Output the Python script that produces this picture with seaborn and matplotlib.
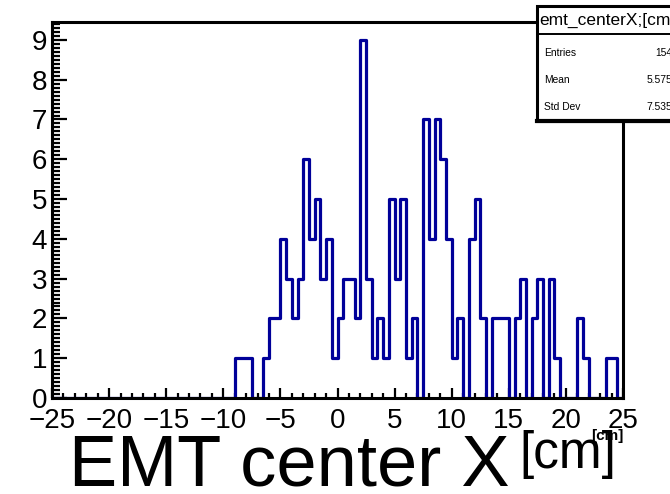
import numpy as np
import pandas as pd
import matplotlib
matplotlib.use("Agg")
import matplotlib.pyplot as plt
from matplotlib.ticker import MultipleLocator
from matplotlib.patches import Rectangle
from matplotlib.lines import Line2D
import seaborn as sns

# ---- data (bin lower edges from -25 to 24.5, width 0.5) ----
bin_edges = [float(v) for v in np.arange(-25.0, 25.0 + 0.25, 0.5)]
counts = [
    # -25 .. -20.5
    0, 0, 0, 0, 0, 0, 0, 0, 0, 0,
    # -20 .. -15.5
    0, 0, 0, 0, 0, 0, 0, 0, 0, 0,
    # -15 .. -10.5
    0, 0, 0, 0, 0, 0, 0, 0, 0, 0,
    # -10 .. -5.5
    0, 0, 1, 1, 1, 0, 0, 1, 2, 2,
    # -5 .. -0.5
    4, 3, 2, 3, 6, 4, 5, 3, 4, 1,
    # 0 .. 4.5
    2, 3, 3, 2, 9, 3, 1, 2, 1, 5,
    # 5 .. 9.5
    3, 5, 1, 2, 0, 7, 4, 7, 6, 4,
    # 10 .. 14.5
    1, 2, 0, 4, 5, 2, 0, 2, 2, 2,
    # 15 .. 19.5
    0, 2, 3, 0, 2, 3, 0, 3, 1, 0,
    # 20 .. 24.5
    0, 0, 2, 1, 0, 0, 0, 1, 1, 0,
]
bin_centers = [e + 0.25 for e in bin_edges[:-1]]
x_ticks = [-25, -20, -15, -10, -5, 0, 5, 10, 15, 20, 25]
y_ticks = [0, 1, 2, 3, 4, 5, 6, 7, 8, 9]
x_label = "EMT center X"
unit_label = "[cm]"
stats_title = "emt_centerX;[cm]"
stats_names = ["Entries", "Mean", "Std Dev"]
stats_values = ["154", "5.575", "7.535"]

df = pd.DataFrame({"x": bin_centers, "w": counts})

W, H = 670, 494
fig = plt.figure(figsize=(W / 100, H / 100), dpi=100)
plt.rcParams["font.family"] = ["Liberation Sans", "DejaVu Sans"]

def fx(px):
    return px / W

def fy(py):
    return 1 - py / H

ax = fig.add_axes([fx(52), fy(398), (623 - 52) / W, (398 - 22) / H])
sns.histplot(data=df, x="x", weights="w", bins=bin_edges, element="step",
             fill=False, color="#000099", linewidth=2.3, ax=ax)

ax.set_xlim(-25, 25)
ax.set_ylim(0, 9.45)
ax.set_xticks(x_ticks)
ax.set_yticks(y_ticks)
ax.set_xticklabels([("\u2212" + str(-v)) if v < 0 else str(v) for v in x_ticks])
ax.xaxis.set_minor_locator(MultipleLocator(1))
ax.yaxis.set_minor_locator(MultipleLocator(0.1))
ax.set_xlabel("")
ax.set_ylabel("")
ax.grid(False)
for s in ax.spines.values():
    s.set_linewidth(2.2)
    s.set_color("black")
ax.tick_params(axis="x", which="major", direction="in", length=7, width=1.6,
               labelsize=20, pad=7)
ax.tick_params(axis="x", which="minor", direction="in", length=3.5, width=1.6)
ax.tick_params(axis="y", which="major", direction="in", length=11, width=1.6,
               labelsize=20, pad=3.5)
ax.tick_params(axis="y", which="minor", direction="in", length=5.5, width=1.6)
ax.tick_params(top=False, right=False, which="both")

# axis titles
fig.text(fx(69), fy(485), x_label, fontsize=52, ha="left", va="baseline")
fig.text(fx(519), fy(468), unit_label, fontsize=37, ha="left", va="baseline")
fig.text(fx(623), fy(440), unit_label, fontsize=11, fontweight="bold",
         ha="right", va="baseline")

# stats box
box_l, box_t, box_b, sep = 537, 6, 121, 34
fig.add_artist(Rectangle((fx(box_l), fy(box_b)), fx(700 - box_l), (box_b - box_t) / H,
                         transform=fig.transFigure, facecolor="white",
                         edgecolor="black", linewidth=2.2, zorder=10))
fig.add_artist(Line2D([fx(box_l), fx(700)], [fy(sep), fy(sep)],
                      transform=fig.transFigure, color="black", linewidth=1.4, zorder=11))
fig.add_artist(Line2D([fx(box_l), fx(700)], [fy(box_b), fy(box_b)],
                      transform=fig.transFigure, color="black", linewidth=3.0, zorder=11))
fig.text(fx(539), fy(20), stats_title, fontsize=12.5, ha="left", va="center", zorder=12)
rows_y = [53, 80, 107]
for name, val, ry in zip(stats_names, stats_values, rows_y):
    fig.text(fx(544), fy(ry), name, fontsize=7.4, ha="left", va="center", zorder=12)
    fig.text(fx(672), fy(ry), val, fontsize=7.4, ha="right", va="center", zorder=12)

fig.savefig("out.png", dpi=100)
